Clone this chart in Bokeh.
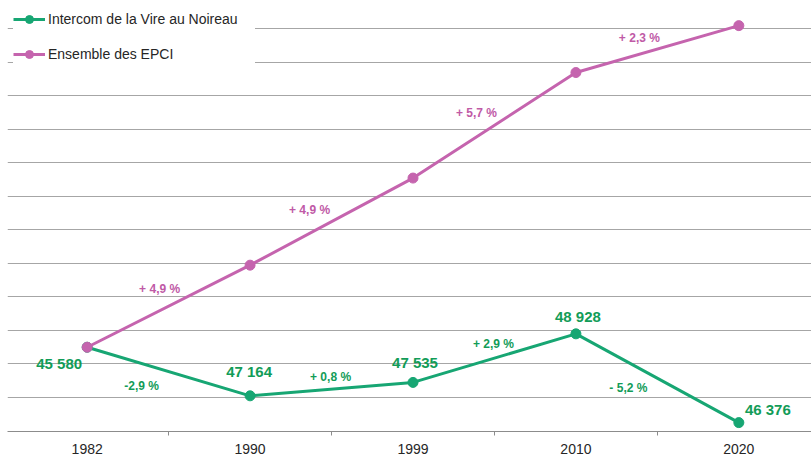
from bokeh.plotting import figure
from bokeh.models import FixedTicker, Grid, Legend, LegendItem, ColumnDataSource, Range1d
from bokeh.core.properties import value
from bokeh.embed import file_html
from bokeh.resources import INLINE

# ---- data ----
years = ["1982", "1990", "1999", "2010", "2020"]
intercom_index = [100.0, 97.1, 97.9, 100.8, 95.5]
epci_index = [100.0, 104.9, 110.1, 116.4, 119.2]
intercom_pop = ["45 580", "47 164", "47 535", "48 928", "46 376"]
intercom_change = ["-2,9 %", "+ 0,8 %", "+ 2,9 %", "- 5,2 %"]
epci_change = ["+ 4,9 %", "+ 4,9 %", "+ 5,7 %", "+ 2,3 %"]
grid_values = [97, 99, 101, 103, 105, 107, 109, 111, 113, 115, 117, 119]

# ---- styles ----
GREEN_LINE = "#17A673"
GREEN_TEXT = "#129C58"
PURPLE_LINE = "#C564AE"
PURPLE_TEXT = "#C05AA6"
FONT = "Liberation Sans"

pop_dx = [-28, -1, 2, 2, 29]
pop_dy = [16, -24, -20, -17, -13]
g_chg_dx = [-27, -1, -1, -29]
g_chg_dy = [14, -12, -14, 10]
p_chg_dx = [-9, -22, -18, -18]
p_chg_dy = [-17, -12, -12, -11]

xs = list(range(len(years)))
mid_x = [(xs[i] + xs[i + 1]) / 2 for i in range(len(xs) - 1)]
g_mid_y = [(intercom_index[i] + intercom_index[i + 1]) / 2 for i in range(len(xs) - 1)]
p_mid_y = [(epci_index[i] + epci_index[i + 1]) / 2 for i in range(len(xs) - 1)]

W, H = 811, 457
BOTTOM = 26
LEFT = 7
p = figure(width=W, height=H, output_backend="svg", toolbar_location=None,
           x_range=Range1d(-0.489, 4.446), y_range=Range1d(94.97, 120.70),
           y_axis_location=None, min_border_left=LEFT, min_border_right=0,
           min_border_top=0, min_border_bottom=BOTTOM)
p.outline_line_color = None
p.grid.visible = False
p.add_layout(Grid(dimension=1, ticker=FixedTicker(ticks=grid_values),
                  grid_line_color="#A6A6A6", grid_line_width=1))

ax = p.xaxis[0]
ax.ticker = FixedTicker(ticks=xs, minor_ticks=[x - 0.5 for x in xs] + [xs[-1] + 0.5])
ax.major_label_overrides = {i: y for i, y in zip(xs, years)}
ax.major_tick_out = 0
ax.major_tick_in = 0
ax.minor_tick_out = 4
ax.minor_tick_in = 0
ax.minor_tick_line_color = "#8C8C8C"
ax.axis_line_color = "#8C8C8C"
ax.major_label_text_font = FONT
ax.major_label_text_font_size = "14px"
ax.major_label_text_color = "#262626"
ax.major_label_standoff = 8

# lines
g_line = p.line(xs, intercom_index, line_color=GREEN_LINE, line_width=3)
g_dot = p.scatter(xs, intercom_index, size=10, color=GREEN_LINE)
p_line = p.line(xs, epci_index, line_color=PURPLE_LINE, line_width=3)
p_dot = p.scatter(xs, epci_index, size=10, color=PURPLE_LINE)

# labels
src_pop = ColumnDataSource(dict(x=xs, y=intercom_index, t=intercom_pop, dx=pop_dx, dy=pop_dy))
p.text("x", "y", text="t", x_offset="dx", y_offset="dy", source=src_pop,
       text_font=value(FONT), text_font_size="15px", text_font_style="bold",
       text_color=GREEN_TEXT, text_align="center", text_baseline="middle")

src_g = ColumnDataSource(dict(x=mid_x, y=g_mid_y, t=intercom_change, dx=g_chg_dx, dy=g_chg_dy))
p.text("x", "y", text="t", x_offset="dx", y_offset="dy", source=src_g,
       text_font=value(FONT), text_font_size="12px", text_font_style="bold",
       text_color=GREEN_TEXT, text_align="center", text_baseline="middle")

src_p = ColumnDataSource(dict(x=mid_x, y=p_mid_y, t=epci_change, dx=p_chg_dx, dy=p_chg_dy))
p.text("x", "y", text="t", x_offset="dx", y_offset="dy", source=src_p,
       text_font=value(FONT), text_font_size="12px", text_font_style="bold",
       text_color=PURPLE_TEXT, text_align="center", text_baseline="middle")

PAD = 8
ITEM_H = 20
SPACING = 15
leg_h = 2 * PAD + 2 * ITEM_H + SPACING
frame_h = H - BOTTOM
legend = Legend(items=[LegendItem(label="Intercom de la Vire au Noireau", renderers=[g_line, g_dot]),
                       LegendItem(label="Ensemble des EPCI", renderers=[p_line, p_dot])],
                location=(6, frame_h - leg_h + 7), glyph_width=32, glyph_height=ITEM_H,
                label_height=ITEM_H, label_width=207, label_standoff=3, spacing=SPACING,
                padding=PAD, margin=0, border_line_color=None,
                background_fill_color="white", background_fill_alpha=1,
                label_text_font=FONT, label_text_font_size="14px",
                label_text_color="#262626")
p.add_layout(legend)

open("out.html", "w").write(file_html(p, INLINE))
